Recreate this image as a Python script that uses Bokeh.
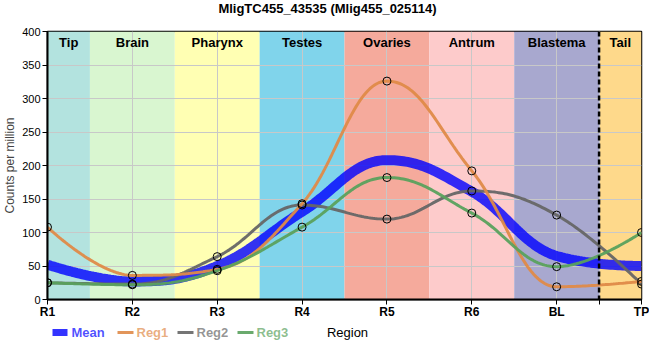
import numpy as np
from bokeh.plotting import figure
from bokeh.layouts import column
from bokeh.models import ColumnDataSource, FixedTicker, Span, Range1d
from bokeh.core.properties import value
from bokeh.embed import file_html
from bokeh.resources import INLINE

# ---------------- data ----------------
regions = ["R1", "R2", "R3", "R4", "R5", "R6", "BL", "TP"]
mean_vals = [52, 27, 50, 131, 208, 161, 65, 50]
reg1 = [108, 36, 45, 143, 326, 192, 19, 27]
reg2 = [25, 23, 64, 141, 120, 162, 126, 23]
reg3 = [25, 22, 43, 108, 182, 129, 49, 100]

band_names = ["Tip", "Brain", "Pharynx", "Testes", "Ovaries", "Antrum", "Blastema", "Tail"]
band_left = [0, 0.5, 1.5, 2.5, 3.5, 4.5, 5.5, 6.5]
band_right = [0.5, 1.5, 2.5, 3.5, 4.5, 5.5, 6.5, 7]
band_colors = ["#b3e3df", "#d9f6d0", "#ffffb3", "#80d4eb", "#f5aa9c",
               "#fdcbcb", "#a8a8cf", "#fed98b"]
tail_boundary = 6.5

series_names = ["Mean", "Reg1", "Reg2", "Reg3"]
series_colors = ["#0000ff", "#df8a48", "#666666", "#5aa15d"]

title_text = "MligTC455_43535 (Mlig455_025114)"


# ------------- smooth spline path (control points at 0.4 of each gap) -------------
def spline_path(ys, n_seg=40, smoothing=1.5):
    y = [float(v) for v in ys]
    n = len(y)
    den = smoothing + 1
    lcx = list(range(n)); lcy = y[:]
    rcx = list(range(n)); rcy = y[:]
    for i in range(1, n - 1):
        px, py = i, y[i]
        lx, ly = i - 1, y[i - 1]
        nx, ny = i + 1, y[i + 1]
        lcx_i = (smoothing * px + lx) / den
        lcy_i = (smoothing * py + ly) / den
        rcx_i = (smoothing * px + nx) / den
        rcy_i = (smoothing * py + ny) / den
        corr = (rcy_i - lcy_i) * (rcx_i - px) / (rcx_i - lcx_i) + py - rcy_i
        lcy_i += corr
        rcy_i += corr
        if lcy_i > ly and lcy_i > py:
            lcy_i = max(ly, py); rcy_i = 2 * py - lcy_i
        elif lcy_i < ly and lcy_i < py:
            lcy_i = min(ly, py); rcy_i = 2 * py - lcy_i
        if rcy_i > ny and rcy_i > py:
            rcy_i = max(ny, py); lcy_i = 2 * py - rcy_i
        elif rcy_i < ny and rcy_i < py:
            rcy_i = min(ny, py); lcy_i = 2 * py - rcy_i
        lcx[i], lcy[i], rcx[i], rcy[i] = lcx_i, lcy_i, rcx_i, rcy_i
    xs, out = [], []
    for k in range(n - 1):
        t = np.linspace(0, 1, n_seg, endpoint=(k == n - 2))
        b0 = (1 - t) ** 3
        b1 = 3 * (1 - t) ** 2 * t
        b2 = 3 * (1 - t) * t ** 2
        b3 = t ** 3
        xx = b0 * k + b1 * rcx[k] + b2 * lcx[k + 1] + b3 * (k + 1)
        yy = b0 * y[k] + b1 * rcy[k] + b2 * lcy[k + 1] + b3 * y[k + 1]
        xs.extend(xx)
        out.extend(yy)
    return xs, out


xpos = list(range(len(regions)))
FW, BL_, BR_ = 594, 42, 8        # shared frame width / side borders
PX0, PX1 = 50, 50 + FW           # strip coordinates = page pixels of the frame

# ---------------- title strip ----------------
tf = figure(frame_width=FW, frame_height=17, x_range=Range1d(PX0, PX1),
            y_range=Range1d(0, 17), output_backend="svg", toolbar_location=None,
            x_axis_type=None, y_axis_type=None, min_border_left=BL_,
            min_border_right=BR_, min_border_top=0, min_border_bottom=0)
tf.grid.visible = False
tf.outline_line_color = None
tf.text(x=[330], y=[9], text=[title_text], text_align="center",
        text_baseline="middle", text_font=value("Liberation Sans"),
        text_font_style="bold", text_font_size="13px", text_color="black")

# ---------------- main chart ----------------
p = figure(frame_width=FW, frame_height=268, x_range=Range1d(0, 7),
           y_range=Range1d(0, 400), output_backend="svg", toolbar_location=None,
           min_border_left=BL_, min_border_right=BR_, min_border_top=14,
           min_border_bottom=18)

band_src = ColumnDataSource(dict(left=band_left, right=band_right, color=band_colors))
p.quad(left="left", right="right", bottom=0, top=400, fill_color="color",
       line_color=None, source=band_src, level="image")

p.xgrid.grid_line_color = "#c8c8c8"
p.ygrid.grid_line_color = "#c8c8c8"

band_mid = [(a + b) / 2 for a, b in zip(band_left, band_right)]
p.text(x=band_mid, y=[400] * len(band_names), text=band_names, text_align="center",
       text_baseline="top", y_offset=3, text_font=value("Liberation Sans"),
       text_font_style="bold", text_font_size="13px", text_color="black")

mx, my = spline_path(mean_vals)
p.line(mx, my, line_color=series_colors[0], line_width=10, line_alpha=0.8)

reg_series = [reg1, reg2, reg3]
for idx in [1, 0, 2]:
    xs, ys = spline_path(reg_series[idx])
    p.line(xs, ys, line_color=series_colors[idx + 1], line_width=3, line_alpha=0.95)

for vals in reg_series:
    p.scatter(xpos, vals, size=8, fill_color=None, line_color="black", line_width=1)

p.add_layout(Span(location=tail_boundary, dimension="height", line_color="black",
                  line_width=2.5, line_dash="5 3"))

p.xaxis.ticker = FixedTicker(ticks=xpos + [tail_boundary])
overrides = {i: r for i, r in enumerate(regions)}
overrides[tail_boundary] = ""
p.xaxis.major_label_overrides = overrides
p.xaxis.major_label_text_font = "Liberation Sans"
p.xaxis.major_label_text_font_style = "bold"
p.xaxis.major_label_text_font_size = "12px"
p.xaxis.major_label_standoff = 0

p.yaxis.ticker = FixedTicker(ticks=list(range(0, 401, 50)))
p.yaxis.major_label_text_font = "Liberation Sans"
p.yaxis.major_label_text_font_size = "11px"
p.yaxis.major_label_standoff = 2
p.yaxis.axis_label = "Counts per million"
p.yaxis.axis_label_text_font = "Liberation Sans"
p.yaxis.axis_label_text_font_style = "normal"
p.yaxis.axis_label_text_font_size = "12px"
p.yaxis.axis_label_standoff = 2

for ax in (p.xaxis, p.yaxis):
    ax.axis_line_color = "black"
    ax.axis_line_width = 2
    ax.major_tick_line_color = "black"
    ax.major_tick_out = 5
    ax.major_tick_in = 0
    ax.minor_tick_line_color = None
    ax.major_label_text_color = "black"

p.outline_line_color = "black"
p.outline_line_width = 1.5

# ---------------- legend strip (page-pixel coordinates of the frame) ----------------
lf = figure(frame_width=FW, frame_height=24, x_range=Range1d(PX0, PX1),
            y_range=Range1d(0, 24), output_backend="svg", toolbar_location=None,
            x_axis_type=None, y_axis_type=None, min_border_left=BL_,
            min_border_right=BR_, min_border_top=0, min_border_bottom=0)
lf.grid.visible = False
lf.outline_line_color = None

sym_x = [55, 120, 180, 240]
sym_y = 13
lf.rect(x=[sym_x[0] + 7.5], y=[sym_y], width=15, height=7,
        fill_color=series_colors[0], fill_alpha=0.8, line_color=None)
lf.segment(x0=sym_x[1:], y0=[sym_y] * 3, x1=[x + 16 for x in sym_x[1:]],
           y1=[sym_y] * 3, line_color=series_colors[1:], line_width=3, line_alpha=0.9)
lf.text(x=[x + 19 for x in sym_x], y=[sym_y] * 4, text=series_names,
        text_color=series_colors, text_alpha=0.7, text_baseline="middle",
        text_font=value("Liberation Sans"), text_font_style="bold",
        text_font_size="13px")
lf.text(x=[350], y=[sym_y], text=["Region"], text_align="center",
        text_baseline="middle", text_font=value("Liberation Sans"),
        text_font_size="13px", text_color="black")

page = column(tf, p, lf, spacing=0)
open("out.html", "w").write(file_html(page, INLINE))
